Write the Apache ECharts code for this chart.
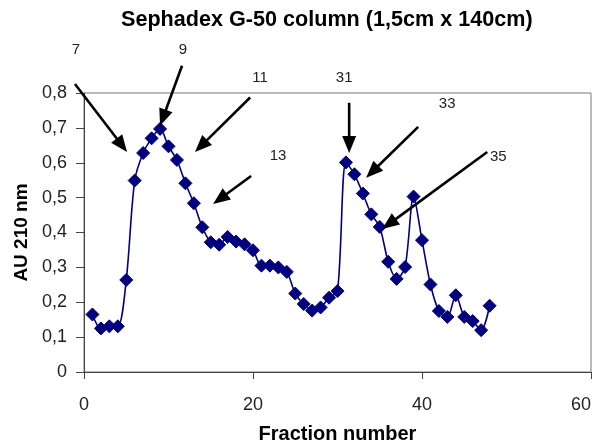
<!DOCTYPE html>
<html>
<head>
<meta charset="utf-8">
<script src="https://cdn.jsdelivr.net/npm/echarts@6/dist/echarts.min.js"></script>
<style>
html,body{margin:0;padding:0;background:#fff;}
#chart{width:597px;height:444px;}
</style>
</head>
<body>
<div id="chart"></div>
<script>
// Fraction numbers
var fractions = [1,2,3,4,5,6,7,8,9,10,11,12,13,14,15,16,17,18,19,20,21,22,23,24,25,26,27,28,29,30,31,32,33,34,35,36,37,38,39,40,41,42,43,44,45,46,47,48];
// Absorbance AU 210 nm
var absorbance = [0.165,0.125,0.131,0.131,0.264,0.549,0.628,0.670,0.697,0.647,0.608,0.541,0.484,0.415,0.372,0.365,0.387,0.374,0.366,0.349,0.305,0.305,0.300,0.287,0.225,0.195,0.176,0.185,0.213,0.232,0.601,0.567,0.512,0.452,0.416,0.316,0.267,0.301,0.503,0.378,0.251,0.175,0.158,0.220,0.158,0.146,0.120,0.190];
// Tick labels
var xTicks = [0,20,40,60];
var yTicks = [0,0.1,0.2,0.3,0.4,0.5,0.6,0.7,0.8];
// Annotation labels (fraction numbers pointed at)
var annoLabels = ['7','9','11','13','31','33','35'];
// Annotation label anchors (data coords)
var annoLabelX = [-0.95,11.72,20.84,22.97,30.79,42.98,49.02];
var annoLabelY = [0.924,0.924,0.844,0.620,0.844,0.769,0.617];
// Arrow start and tip (data coords)
var arrowStartX = [-1.07,11.6,19.66,19.78,31.38,39.55,47.72];
var arrowStartY = [0.826,0.878,0.787,0.562,0.772,0.703,0.631];
var arrowTipX = [5.09,9.0,13.14,15.28,31.38,33.39,35.29];
var arrowTipY = [0.631,0.706,0.631,0.482,0.628,0.557,0.410];

var chart = echarts.init(document.getElementById('chart'), null, {renderer:'canvas'});
var font = '"Liberation Sans", Arial, sans-serif';
var data = fractions.map(function(f,i){return [f, absorbance[i]];});

function fmtY(v){
  if (Math.abs(v) < 1e-9) return '0';
  return v.toFixed(1).replace('.', ',');
}

var option = {
  animation: false,
  backgroundColor: '#fff',
  title: {
    text: 'Sephadex G-50 column (1,5cm x 140cm)',
    left: 116, top: 4,
    textStyle: {fontFamily: font, fontSize: 21.6, fontWeight: 'bold', color: '#000'}
  },
  grid: {left: 84, right: 6, top: 93, bottom: 72, containLabel: false, outerBoundsMode: 'none', show: true, borderColor: '#777', borderWidth: 1, backgroundColor: 'transparent'},
  xAxis: {
    type: 'value', min: xTicks[0], max: xTicks[xTicks.length-1], interval: 20,
    name: 'Fraction number', nameLocation: 'middle', nameGap: 52,
    nameTextStyle: {fontFamily: font, fontSize: 20, fontWeight: 'bold', color: '#000'},
    axisLine: {show: true, onZero: false, lineStyle: {color: '#444', width: 1}},
    axisTick: {show: true, length: 7, lineStyle: {color: '#444'}},
    axisLabel: {fontFamily: font, fontSize: 18, color: '#222', margin: 24, alignMaxLabel: 'right'},
    splitLine: {show: false}
  },
  yAxis: {
    type: 'value', min: yTicks[0], max: yTicks[yTicks.length-1], interval: 0.1,
    name: 'AU 210 nm', nameLocation: 'middle', nameGap: 50,
    nameTextStyle: {fontFamily: font, fontSize: 19, fontWeight: 'bold', color: '#000'},
    axisLine: {show: true, lineStyle: {color: '#444', width: 1}},
    axisTick: {show: true, length: 8, lineStyle: {color: '#444'}},
    axisLabel: {fontFamily: font, fontSize: 18, color: '#222', margin: 17, formatter: fmtY},
    splitLine: {show: false}
  },
  series: [{
    type: 'line',
    data: data,
    smooth: 0.3,
    symbol: 'diamond',
    symbolSize: 13,
    showAllSymbol: true,
    lineStyle: {color: '#000080', width: 1.6},
    itemStyle: {color: '#000080', borderColor: '#000080'},
    z: 3
  }]
};
chart.setOption(option);

// Annotations: arrows and labels placed via the chart's own coordinate conversion
var elems = [];
for (var i = 0; i < annoLabels.length; i++) {
  var s = chart.convertToPixel({gridIndex: 0}, [arrowStartX[i], arrowStartY[i]]);
  var t = chart.convertToPixel({gridIndex: 0}, [arrowTipX[i], arrowTipY[i]]);
  var dx = t[0]-s[0], dy = t[1]-s[1];
  var len = Math.sqrt(dx*dx+dy*dy);
  var ux = dx/len, uy = dy/len;
  var headLen = 17, headHalf = 7;
  var bx = t[0]-ux*headLen, by = t[1]-uy*headLen;
  elems.push({
    type: 'line', z: 10,
    shape: {x1: s[0], y1: s[1], x2: bx+ux*2, y2: by+uy*2},
    style: {stroke: '#000', lineWidth: 2.6}
  });
  elems.push({
    type: 'polygon', z: 10,
    shape: {points: [[t[0],t[1]],[bx - uy*headHalf, by + ux*headHalf],[bx + uy*headHalf, by - ux*headHalf]]},
    style: {fill: '#000'}
  });
  var p = chart.convertToPixel({gridIndex: 0}, [annoLabelX[i], annoLabelY[i]]);
  elems.push({
    type: 'text', z: 10, x: p[0], y: p[1],
    style: {text: annoLabels[i], fill: '#222', font: '15px ' + font, textAlign: 'center', textVerticalAlign: 'middle'}
  });
}
chart.setOption({graphic: elems});
</script>
</body>
</html>
